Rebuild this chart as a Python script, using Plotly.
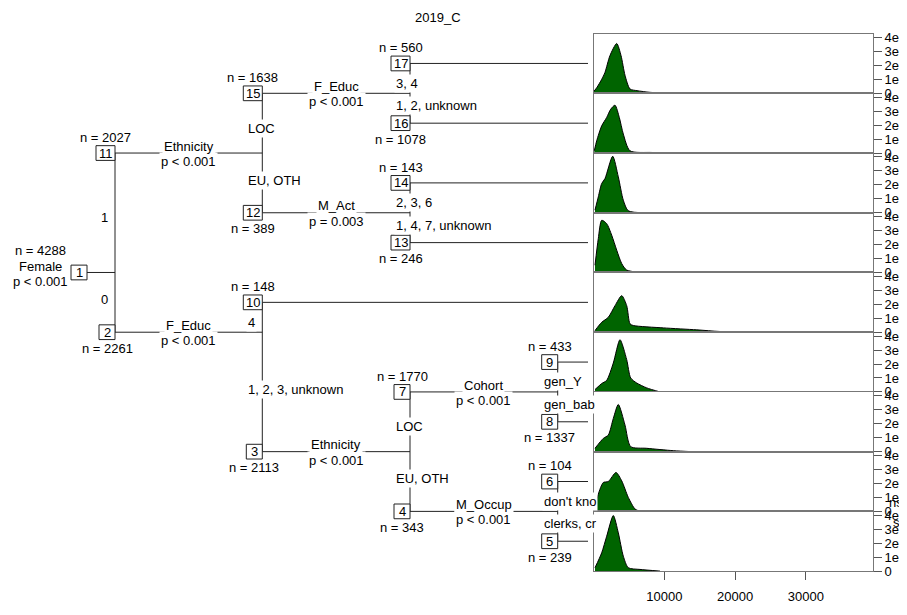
import plotly.graph_objects as go

# The page body keeps an 8px margin: figure pixels are placed at page pixel - 8.
OFF = 8
W, H = 907, 615
FONT = "Liberation Sans, Arial, sans-serif"
FS = 13

title = "2019_C"

# ---------------- tree structure ----------------
inner_ids = [1, 11, 15, 12, 2, 3, 7, 4]
inner_n = [4288, 2027, 1638, 389, 2261, 2113, 1770, 343]
inner_var = ["Female", "Ethnicity", "F_Educ", "M_Act", "F_Educ", "Ethnicity", "Cohort", "M_Occup"]
inner_p = ["p < 0.001", "p < 0.001", "p < 0.001", "p = 0.003", "p < 0.001", "p < 0.001", "p < 0.001", "p < 0.001"]
inner_kids = [(11, 2), (15, 12), (17, 16), (14, 13), (10, 3), (7, 4), (9, 8), (6, 5)]
inner_edges = [("1", "0"), ("LOC", "EU, OTH"), ("3, 4", "1, 2, unknown"), ("2, 3, 6", "1, 4, 7, unknown"),
               ("4", "1, 2, 3, unknown"), ("LOC", "EU, OTH"), ("gen_Y", "gen_bab"), ("don't kno", "clerks, cr")]

term_ids = [17, 16, 14, 13, 10, 9, 8, 6, 5]
term_n = [560, 1078, 143, 246, 148, 433, 1337, 104, 239]

# ---------------- density curves (value, density) ----------------
x17 = [60, 484, 1149, 1615, 2322, 3270, 3878, 4443, 5150, 6140, 7978, 10524]
d17 = [0.15e-4, 0.43e-4, 1.0e-4, 1.5e-4, 2.71e-4, 3.57e-4, 2.71e-4, 1.29e-4, 0.31e-4, 0.19e-4, 0.07e-4, 0.0]
x16 = [102, 442, 1149, 1856, 2421, 3029, 3637, 4203, 5150, 8219, 11754]
d16 = [0.16e-4, 0.88e-4, 1.95e-4, 2.55e-4, 3.14e-4, 3.43e-4, 2.55e-4, 1.36e-4, 0.16e-4, 0.04e-4, 0.0]
x14 = [201, 668, 1149, 1615, 2704, 3496, 4203, 4910, 7512]
d14 = [0.19e-4, 1.14e-4, 2.1e-4, 2.45e-4, 4.05e-4, 2.57e-4, 0.9e-4, 0.14e-4, 0.0]
x13 = [201, 668, 1149, 1856, 2563, 3270, 3977, 4684, 7031]
d13 = [0.52e-4, 2.43e-4, 3.74e-4, 3.5e-4, 2.67e-4, 1.6e-4, 0.64e-4, 0.17e-4, 0.0]
x10 = [201, 1149, 2082, 3029, 3977, 4684, 5150, 5617, 9859, 14582, 17876, 22118]
d10 = [0.12e-4, 0.71e-4, 1.07e-4, 1.9e-4, 2.62e-4, 1.9e-4, 0.6e-4, 0.48e-4, 0.31e-4, 0.17e-4, 0.05e-4, 0.0]
x9 = [201, 1149, 1856, 2789, 3736, 4684, 5249, 6098, 7512, 9392]
d9 = [0.17e-4, 0.6e-4, 0.83e-4, 2.07e-4, 3.74e-4, 2.31e-4, 1.0e-4, 0.64e-4, 0.29e-4, 0.0]
x8 = [201, 1375, 2082, 2789, 3496, 4443, 5249, 7512, 11273, 13875]
d8 = [0.24e-4, 0.95e-4, 1.19e-4, 2.38e-4, 3.38e-4, 1.9e-4, 0.36e-4, 0.24e-4, 0.07e-4, 0.0]
x6 = [201, 668, 1375, 2082, 3171, 3977, 4910, 5857, 6564]
d6 = [0.17e-4, 1.24e-4, 2.07e-4, 2.14e-4, 2.79e-4, 2.19e-4, 1.0e-4, 0.17e-4, 0.0]
x5 = [201, 1149, 1856, 2789, 3496, 4203, 4910, 6564, 9392]
d5 = [0.24e-4, 1.31e-4, 2.5e-4, 3.98e-4, 2.74e-4, 1.07e-4, 0.24e-4, 0.12e-4, 0.0]

dens = {17: (x17, d17), 16: (x16, d16), 14: (x14, d14), 13: (x13, d13), 10: (x10, d10),
        9: (x9, d9), 8: (x8, d8), 6: (x6, d6), 5: (x5, d5)}

x_ticks = [10000, 20000, 30000]
y_tickvals = [0, 1e-4, 2e-4, 3e-4, 4e-4]
# the density labels run off the right edge of the picture; only their first characters show
y_ticktext = ["0", "1e-", "2e-", "3e-", "4e-"]

# ---------------- layout geometry (page pixels) ----------------
P_TOP, P_BOT = 31.0, 578.3
P_LEFT, P_RIGHT = 594.0, 873.0
NT = len(term_ids)
PH = (P_BOT - P_TOP) / NT
COLS = [87.0, 115.0, 262.3, 410.0, 557.7]
LINE_END = 588.0
X_RANGE = [60, 39500]
Y_RANGE = [0, 4.28e-4]


def px(x):
    return (x - OFF) / W


def py(y):
    return 1 - (y - OFF) / H


fig = go.Figure()

# ---------------- panels ----------------
for i, nid in enumerate(term_ids):
    top = P_TOP + i * PH
    bot = top + PH
    xs = "" if i == 0 else str(i + 1)
    xv, dv = dens[nid]
    fig.add_trace(go.Scatter(x=xv, y=dv, mode="lines", fill="tozeroy",
                             fillcolor="#006400", line=dict(color="#000000", width=1, shape="spline", smoothing=0.7),
                             xaxis="x" + xs, yaxis="y" + xs, showlegend=False, hoverinfo="skip"))
    xa = dict(domain=[px(P_LEFT), px(P_RIGHT)], range=X_RANGE, anchor="y" + xs,
              showline=True, mirror=True, linecolor="#777777", linewidth=1,
              showgrid=False, zeroline=False, fixedrange=True)
    if i > 0:
        xa["matches"] = "x"
    if i == NT - 1:
        xa.update(ticks="outside", ticklen=8, tickcolor="#555555", tickvals=x_ticks,
                  ticktext=[str(v) for v in x_ticks], showticklabels=True, ticklabelstandoff=5,
                  tickfont=dict(family=FONT, size=FS, color="#000"))
    else:
        xa.update(ticks="", showticklabels=False)
    ya = dict(domain=[py(bot), py(top)], range=Y_RANGE, anchor="x" + xs, side="right",
              showline=True, mirror=True, linecolor="#777777", linewidth=1,
              showgrid=False, zeroline=False, ticks="outside", ticklen=8, tickcolor="#555555",
              tickvals=y_tickvals, ticktext=y_ticktext, ticklabelstandoff=0, fixedrange=True,
              tickfont=dict(family=FONT, size=FS, color="#000"))
    fig.layout["xaxis" + xs] = xa
    fig.layout["yaxis" + xs] = ya

# ---------------- tree layout ----------------
kids = dict(zip(inner_ids, inner_kids))
ypos = {}
depth = {}
count = {}


def walk(nid, d, start):
    depth[nid] = d
    if nid in kids:
        l, r = kids[nid]
        c1 = walk(l, d + 1, start)
        c2 = walk(r, d + 1, start + c1)
        count[nid] = c1 + c2
        ypos[nid] = P_TOP + (start + c1) * PH
    else:
        k = term_ids.index(nid)
        ypos[nid] = P_TOP + (k + 0.5) * PH
        count[nid] = 1
    return count[nid]


walk(1, 0, 0)

shapes = []
annots = []
LC = "#222222"


def line(x0, y0, x1, y1):
    shapes.append(dict(type="line", xref="paper", yref="paper", x0=px(x0), y0=py(y0), x1=px(x1), y1=py(y1),
                       line=dict(color=LC, width=1)))


def text(x, y, s, xanchor="center", bg=None):
    a = dict(x=px(x), y=py(y), xref="paper", yref="paper", text=s, showarrow=False,
             xanchor=xanchor, yanchor="middle", font=dict(family=FONT, size=FS, color="#000"),
             borderpad=1)
    if bg:
        a["bgcolor"] = bg
    annots.append(a)


def box(nid):
    d = depth[nid]
    right = COLS[d]
    w = 16 if nid < 10 else 19
    y = ypos[nid]
    shapes.append(dict(type="rect", xref="paper", yref="paper", x0=px(right - w), x1=px(right),
                       y0=py(y - 7.5), y1=py(y + 7.5), fillcolor="white", line=dict(color=LC, width=1)))
    text(right - w / 2, y, str(nid))
    return right - w / 2


all_n = dict(zip(inner_ids, inner_n))
all_n.update(dict(zip(term_ids, term_n)))

for k, nid in enumerate(inner_ids):
    d = depth[nid]
    l, r = kids[nid]
    y = ypos[nid]
    line(COLS[d], y, COLS[d + 1], y)
    line(COLS[d + 1], ypos[l], COLS[d + 1], ypos[r])
for nid in term_ids:
    line(COLS[depth[nid]], ypos[nid], LINE_END, ypos[nid])

for k, nid in enumerate(inner_ids):
    d = depth[nid]
    l, r = kids[nid]
    y = ypos[nid]
    if d > 0:
        cx = (COLS[d] + COLS[d + 1]) / 2
        text(cx, y + 8.5, inner_p[k], bg="white")
        text(cx, y - 7, inner_var[k], bg="white")
    ex = COLS[d + 1] - 16
    text(ex, (y + ypos[l]) / 2 + 5, inner_edges[k][0], xanchor="left", bg="white")
    text(ex, (y + ypos[r]) / 2 - 2.7, inner_edges[k][1], xanchor="left", bg="white")

upper = set(k[0] for k in inner_kids)
for nid in inner_ids + term_ids:
    cx = box(nid)
    y = ypos[nid]
    if nid == 1:
        continue
    if nid in upper:
        text(cx, y - 16, "n = %d" % all_n[nid])
    else:
        text(cx, y + 16.5, "n = %d" % all_n[nid])

y1 = ypos[1]
text(40, y1 - 22, "n = %d" % inner_n[0])
text(40, y1 - 6, inner_var[0])
text(40, y1 + 9, inner_p[0])

text(887, 508, "ns", xanchor="left")
text(891, 529, "sk", xanchor="left")

text(438, 15, title)

fig.update_layout(width=W, height=H, margin=dict(l=0, r=0, t=0, b=0),
                  paper_bgcolor="white", plot_bgcolor="white", showlegend=False,
                  dragmode=False, shapes=shapes, annotations=annots, font=dict(family=FONT, size=FS))

fig.write_html("out.html", config={"staticPlot": True})
